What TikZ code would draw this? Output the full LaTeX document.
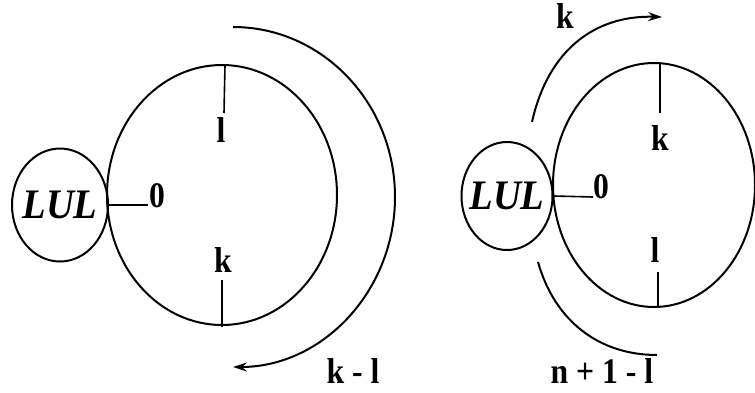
\documentclass[tikz,border=0pt]{standalone}
\usepackage{fontspec}
\setmainfont{Liberation Serif}
\newfontfamily\lblfont[FakeStretch=0.88]{Liberation Serif Bold}
\newfontfamily\lulfont[FakeStretch=0.92]{Liberation Serif Bold Italic}
\usetikzlibrary{shapes.geometric,arrows.meta}
\begin{document}
\begin{tikzpicture}[x=1pt,y=-1pt,
  ring/.style={draw, ellipse, line width=2pt, inner sep=0pt},
  lultext/.style={inner sep=0pt, font=\lulfont\fontsize{42}{42}\selectfont},
  lbl/.style={inner sep=0pt, anchor=base, font=\lblfont\fontsize{36}{36}\selectfont},
  tick/.style={line width=1.6pt},
  flow/.style={line width=2pt},
  tip/.style={-{Stealth[length=14pt,width=9pt,inset=5pt]}}]
\useasboundingbox (0,0) rectangle (755,392);
% ---------- left diagram ----------
\node[ring, minimum width=230pt, minimum height=260pt] (bigA) at (222,195) {};
\node[ring, minimum width=96pt, minimum height=113pt] (lulA) at (60,205) {};
\node[lultext] (lulAt) at (lulA.center) {LUL};
\node[lbl] (lA) at (221,142) {l};
\node[lbl] (kA) at (223,272) {k};
\node[lbl] (zA) at (157,207) {0};
\node[lbl] (klA) at (353,383) {k - l};
\coordinate (tAtop) at (225,65);
\coordinate (tAtopE) at (224,113);
\coordinate (tAbot) at (222,280);
\coordinate (tAbotE) at (222,327);
\coordinate (zAe) at (148,205);
\draw[tick] (tAtop) -- (tAtopE);
\draw[tick] (tAbot) -- (tAbotE);
\draw[tick] (lulA.east) -- (zAe);
\coordinate (arcAs) at (233,27);
\draw[flow, tip] (arcAs) arc[start angle=-90, end angle=90, x radius=162, y radius=170];
% ---------- right diagram ----------
\node[ring, minimum width=202pt, minimum height=244pt] (bigB) at (654,185) {};
\node[ring, minimum width=91pt, minimum height=108pt] (lulB) at (507,196) {};
\node[lultext] (lulBt) at (lulB.center) {LUL};
\node[lbl] (kB) at (660,150) {k};
\node[lbl] (lB) at (655,262) {l};
\node[lbl] (zB) at (601,198) {0};
\node[lbl] (ktop) at (565,28) {k};
\node[lbl] (nB) at (602,383) {n + 1 - l};
\coordinate (tBtop) at (660,63);
\coordinate (tBtopE) at (660,113);
\coordinate (tBbot) at (658,272);
\coordinate (tBbotE) at (658,307);
\coordinate (zBe) at (593,197);
\draw[tick] (tBtop) -- (tBtopE);
\draw[tick] (tBbot) -- (tBbotE);
\draw[tick] (lulB.east) -- (zBe);
\coordinate (upS) at (532,122);
\coordinate (upE) at (662,17);
\draw[flow, tip] (upS) .. controls (548,50) and (595,15) .. (upE);
\coordinate (dnS) at (538,262);
\coordinate (dnE) at (657,355);
\draw[flow] (dnS) .. controls (555,322) and (600,355) .. (dnE);
\end{tikzpicture}
\end{document}
